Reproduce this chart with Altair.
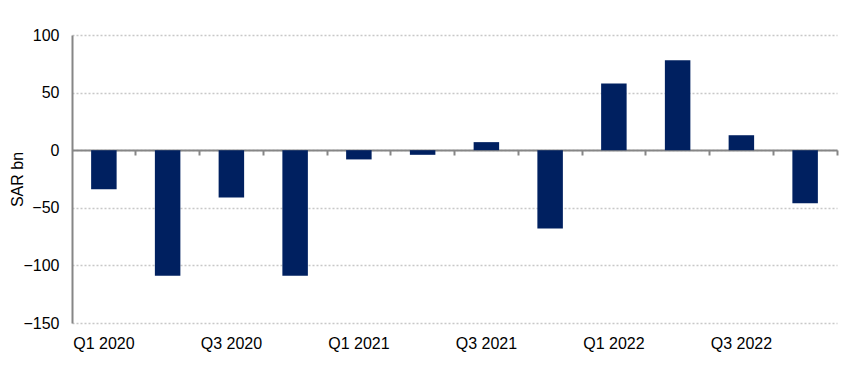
import altair as alt
import pandas as pd

quarters = ["Q1 2020", "Q2 2020", "Q3 2020", "Q4 2020",
            "Q1 2021", "Q2 2021", "Q3 2021", "Q4 2021",
            "Q1 2022", "Q2 2022", "Q3 2022", "Q4 2022"]
values = [-34, -109, -41, -109, -8, -4, 7, -68, 58, 78, 13, -46]
y_ticks = [-150, -100, -50, 0, 50, 100]

df = pd.DataFrame({"quarter": quarters, "value": values})

FONT = "Liberation Sans"

chart = alt.Chart(df).mark_bar(color="#002060").encode(
    x=alt.X("quarter:N", sort=quarters, title=None,
            scale=alt.Scale(paddingInner=0.6, paddingOuter=0.3),
            axis=alt.Axis(offset=-173, domainColor="#868686", domainWidth=2,
                          tickColor="#868686", tickWidth=2, tickSize=5,
                          bandPosition=1.75, labelAngle=0,
                          labelPadding=180, labelFontSize=16, labelFont=FONT,
                          labelColor="#000000",
                          labelExpr="test(/^Q[13]/, datum.label) ? datum.label : ''",
                          grid=False)),
    y=alt.Y("value:Q", title="SAR bn",
            scale=alt.Scale(domain=[-150, 100], nice=False, zero=False),
            axis=alt.Axis(values=y_ticks, domainColor="#868686", domainWidth=2,
                          ticks=False, labelPadding=13, labelFontSize=16,
                          labelFont=FONT, labelColor="#000000",
                          grid=True, gridColor="#c8c8c8", gridDash=[2, 2],
                          gridWidth=1.5,
                          titleFont=FONT, titleFontSize=16, titleFontWeight="normal",
                          titleColor="#000000", titleX=-50,
                          titleBaseline="alphabetic")),
).properties(
    width=765, height=288,
    autosize=alt.AutoSizeParams(type="none"),
    padding={"left": 64, "top": 27, "right": 10, "bottom": 40},
).configure_view(stroke=None)

chart.save("out.html", embed_options={"renderer": "svg", "actions": False})
